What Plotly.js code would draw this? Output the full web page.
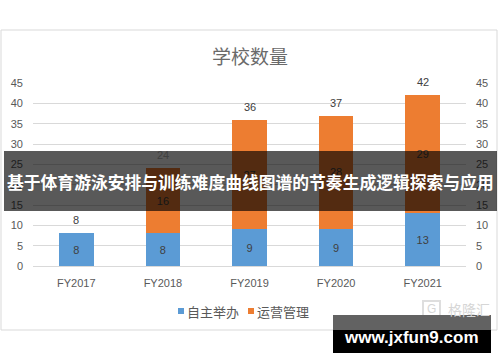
<!DOCTYPE html>
<html>
<head>
<meta charset="utf-8">
<script src="https://cdn.plot.ly/plotly-3.0.1.min.js"></script>
<style>
html,body{margin:0;padding:0;background:#fff;}
#chart{width:500px;height:362px;}
</style>
</head>
<body>
<div id="chart"></div>
<script>
var years = ['FY2017', 'FY2018', 'FY2019', 'FY2020', 'FY2021'];
var selfRun = [8, 8, 9, 9, 13];
var managed = [0, 16, 27, 28, 29];
var seriesNames = ['自主举办', '运营管理'];
var seriesColors = ['#5B9BD5', '#ED7D31'];
var yTicks = [0, 5, 10, 15, 20, 25, 30, 35, 40, 45];
var chartTitle = '学校数量';
var bannerText = '基于体育游泳安排与训练难度曲线图谱的节奏生成逻辑探索与应用';
var siteText = 'www.jxfun9.com';
var logoText = '格隆汇';

var totals = years.map(function (_, i) { return selfRun[i] + managed[i]; });

var labelFont = {family: 'Liberation Sans, Arial, sans-serif', size: 11, color: '#404040'};
var tickFont = {family: 'Liberation Sans, Arial, sans-serif', size: 11, color: '#595959'};

var traces = [
  {
    type: 'bar', name: seriesNames[0], x: years, y: selfRun,
    text: selfRun.map(String), textposition: 'inside', insidetextanchor: 'middle',
    textfont: labelFont, marker: {color: seriesColors[0]}, hoverinfo: 'skip', showlegend: false
  },
  {
    type: 'bar', name: seriesNames[1], x: years, y: managed,
    text: managed.map(function (v) { return v ? String(v) : ''; }),
    textposition: 'inside', insidetextanchor: 'middle',
    textfont: labelFont, marker: {color: seriesColors[1]}, hoverinfo: 'skip', showlegend: false
  },
  {
    type: 'scatter', mode: 'markers', x: years, y: totals, yaxis: 'y2',
    marker: {opacity: 0}, showlegend: false, hoverinfo: 'skip'
  }
];

// pixel -> paper helpers (plot area: x 33..466, y 83..266)
function px(x) { return (x - 33) / 433; }
function py(y) { return (266 - y) / 183; }

function note(x, y, text, font, xanchor) {
  return {x: px(x), y: py(y), xref: 'paper', yref: 'paper', text: text, showarrow: false,
          xanchor: xanchor || 'center', yanchor: 'middle', font: font};
}

var annotations = years.map(function (yr, i) {
  return {x: yr, y: totals[i], xref: 'x', yref: 'y', text: String(totals[i]),
          showarrow: false, yshift: 13, xanchor: 'center', yanchor: 'middle', font: labelFont};
});
annotations.push(note(250, 55, chartTitle,
  {family: 'Noto Sans CJK SC, sans-serif', size: 19, color: '#6a6a6a'}));
annotations.push(note(446, 309, logoText,
  {family: 'Noto Sans CJK SC, sans-serif', size: 14, color: '#d6d6d6'}, 'left'));
annotations.push(note(431.5, 309, 'G',
  {family: 'Liberation Sans, Arial, sans-serif', size: 12, color: '#d6d6d6'}));
// legend
var legendX = [178, 248];
seriesNames.forEach(function (n, i) {
  annotations.push(note(legendX[i] + 7, 311, n,
    {family: 'Noto Sans CJK SC, sans-serif', size: 13, color: '#595959'}, 'left'));
});
annotations.push(note(250, 182, '<b>' + bannerText + '</b>',
  {family: 'Noto Sans CJK SC, sans-serif', size: 16.8, color: '#ffffff'}));
annotations.push(note(411, 337, '<b>' + siteText + '</b>',
  {family: 'Liberation Sans, Arial, sans-serif', size: 17, color: '#ffffff'}));

var shapes = [
  {type: 'rect', xref: 'paper', yref: 'paper', x0: px(1), x1: px(497), y0: py(30), y1: py(330),
   line: {color: '#d9d9d9', width: 1}, fillcolor: 'rgba(0,0,0,0)', layer: 'below'}
];
seriesNames.forEach(function (n, i) {
  shapes.push({type: 'rect', xref: 'paper', yref: 'paper', x0: px(legendX[i]), x1: px(legendX[i] + 6),
               y0: py(314), y1: py(308), line: {width: 0}, fillcolor: seriesColors[i], layer: 'above'});
});
shapes.push(
  {type: 'rect', xref: 'paper', yref: 'paper', x0: px(423), x1: px(440), y0: py(301), y1: py(318),
   line: {color: '#dedede', width: 2}, fillcolor: 'rgba(0,0,0,0)', layer: 'above'},
  {type: 'rect', xref: 'paper', yref: 'paper', x0: px(4), x1: px(497), y0: py(211), y1: py(151),
   line: {width: 0}, fillcolor: 'rgba(0,0,0,0.65)', layer: 'above'},
  {type: 'rect', xref: 'paper', yref: 'paper', x0: px(333), x1: px(491), y0: py(330), y1: py(315),
   line: {width: 0}, fillcolor: '#626262', layer: 'above'},
  {type: 'rect', xref: 'paper', yref: 'paper', x0: px(333), x1: px(491), y0: py(353), y1: py(330),
   line: {width: 0}, fillcolor: '#000000', layer: 'above'}
);

var layout = {
  width: 500, height: 362,
  margin: {l: 33, r: 34, t: 83, b: 96, pad: 0},
  paper_bgcolor: '#ffffff', plot_bgcolor: '#ffffff',
  barmode: 'stack', bargap: 0.6,
  showlegend: false,
  xaxis: {type: 'category', tickfont: tickFont, showgrid: false, zeroline: false, showline: false,
          ticks: '', ticklabelstandoff: 9, fixedrange: true},
  yaxis: {range: [0, 45], tickvals: yTicks, tickfont: tickFont, showgrid: true, gridcolor: '#d9d9d9',
          gridwidth: 1, zeroline: true, zerolinecolor: '#d9d9d9', showline: false, ticks: '',
          ticklabelstandoff: 9, fixedrange: true},
  yaxis2: {range: [0, 45], tickvals: yTicks, tickfont: tickFont, overlaying: 'y', side: 'right',
           showgrid: false, zeroline: false, showline: false, ticks: '', ticklabelstandoff: 9,
           fixedrange: true},
  annotations: annotations,
  shapes: shapes
};

Plotly.newPlot('chart', traces, layout, {displayModeBar: false, staticPlot: true});
</script>
</body>
</html>
